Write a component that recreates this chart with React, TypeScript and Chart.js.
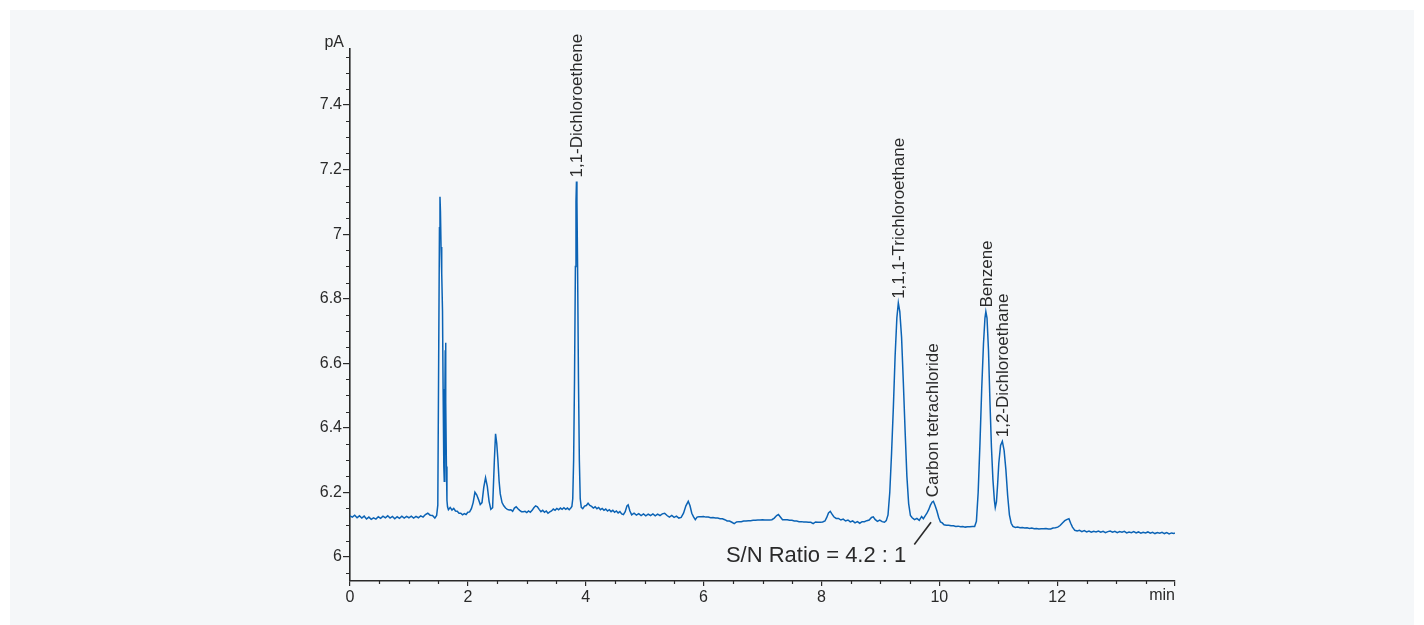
import { useEffect, useRef } from 'react';
import { Chart, registerables } from 'chart.js';

Chart.register(...registerables);

// Chromatogram trace: [retention time (min), signal (pA)]
const trace: [number, number][] = [
  [0.00, 6.127], [0.04, 6.123], [0.08, 6.129], [0.12, 6.121], [0.16, 6.127], [0.20, 6.120], [0.24, 6.126], [0.28, 6.117],
  [0.32, 6.123], [0.36, 6.116], [0.40, 6.121], [0.44, 6.117], [0.48, 6.124], [0.52, 6.119], [0.56, 6.126], [0.60, 6.121],
  [0.64, 6.127], [0.68, 6.120], [0.72, 6.125], [0.76, 6.118], [0.80, 6.124], [0.84, 6.119], [0.88, 6.126], [0.92, 6.120],
  [0.96, 6.125], [1.00, 6.121], [1.04, 6.126], [1.08, 6.120], [1.12, 6.125], [1.16, 6.121], [1.20, 6.127], [1.24, 6.123],
  [1.28, 6.131], [1.32, 6.135], [1.36, 6.129], [1.40, 6.128], [1.44, 6.120], [1.47, 6.128],
  [1.49, 6.16], [1.505, 6.62], [1.518, 7.02], [1.527, 7.116], [1.535, 7.07], [1.545, 6.96], [1.553, 6.89], [1.560, 6.878],
  [1.570, 6.76], [1.580, 6.52], [1.592, 6.28], [1.600, 6.234], [1.608, 6.45], [1.616, 6.64], [1.621, 6.663], [1.628, 6.48],
  [1.636, 6.28], [1.645, 6.175], [1.655, 6.155], [1.67, 6.146], [1.70, 6.153], [1.73, 6.145], [1.76, 6.150], [1.79, 6.142],
  [1.82, 6.141], [1.85, 6.135], [1.88, 6.135], [1.91, 6.130], [1.94, 6.134], [1.97, 6.131], [2.00, 6.138], [2.03, 6.139],
  [2.06, 6.149], [2.09, 6.168], [2.12, 6.200], [2.15, 6.192], [2.18, 6.178], [2.21, 6.162], [2.24, 6.168], [2.27, 6.215],
  [2.30, 6.245], [2.33, 6.218], [2.36, 6.172], [2.39, 6.147], [2.42, 6.152], [2.45, 6.30], [2.47, 6.381], [2.49, 6.352],
  [2.51, 6.30], [2.53, 6.235], [2.55, 6.195], [2.58, 6.168], [2.61, 6.158], [2.64, 6.151], [2.67, 6.147], [2.70, 6.145],
  [2.73, 6.146], [2.76, 6.141], [2.79, 6.151], [2.82, 6.155], [2.85, 6.149], [2.88, 6.144], [2.91, 6.140], [2.94, 6.140],
  [2.97, 6.141], [3.00, 6.137], [3.03, 6.142], [3.06, 6.138], [3.09, 6.144], [3.12, 6.152], [3.15, 6.158], [3.18, 6.155],
  [3.21, 6.147], [3.24, 6.140], [3.27, 6.144], [3.30, 6.138], [3.33, 6.142], [3.36, 6.135], [3.39, 6.139], [3.42, 6.142],
  [3.45, 6.148], [3.48, 6.144], [3.51, 6.150], [3.54, 6.146], [3.57, 6.151], [3.60, 6.147], [3.63, 6.152], [3.66, 6.147],
  [3.69, 6.151], [3.72, 6.146], [3.75, 6.152], [3.765, 6.156], [3.78, 6.18], [3.795, 6.30], [3.81, 6.55], [3.825, 6.90],
  [3.835, 7.10], [3.843, 7.163], [3.851, 7.10], [3.862, 6.90], [3.877, 6.55], [3.892, 6.30], [3.907, 6.18], [3.925, 6.153],
  [3.95, 6.149], [3.98, 6.157], [4.01, 6.159], [4.04, 6.166], [4.07, 6.159], [4.10, 6.156], [4.13, 6.151], [4.16, 6.155],
  [4.19, 6.149], [4.22, 6.153], [4.25, 6.146], [4.28, 6.150], [4.31, 6.144], [4.34, 6.148], [4.37, 6.142], [4.40, 6.146],
  [4.43, 6.140], [4.46, 6.144], [4.49, 6.138], [4.52, 6.142], [4.55, 6.136], [4.58, 6.140], [4.61, 6.133], [4.64, 6.131],
  [4.67, 6.140], [4.70, 6.158], [4.72, 6.161], [4.75, 6.142], [4.78, 6.130], [4.82, 6.135], [4.86, 6.129], [4.90, 6.134],
  [4.94, 6.128], [4.98, 6.133], [5.02, 6.127], [5.06, 6.132], [5.10, 6.128], [5.14, 6.133], [5.18, 6.127], [5.22, 6.132],
  [5.26, 6.128], [5.30, 6.133], [5.34, 6.135], [5.38, 6.128], [5.42, 6.123], [5.46, 6.128], [5.50, 6.122], [5.54, 6.126],
  [5.58, 6.120], [5.62, 6.122], [5.66, 6.135], [5.70, 6.158], [5.74, 6.172], [5.77, 6.158], [5.80, 6.135], [5.83, 6.124],
  [5.86, 6.115], [5.89, 6.123], [5.92, 6.124], [5.96, 6.124], [6.00, 6.125], [6.04, 6.123], [6.08, 6.123], [6.12, 6.121],
  [6.16, 6.122], [6.20, 6.120], [6.24, 6.120], [6.28, 6.118], [6.32, 6.118], [6.36, 6.115], [6.40, 6.111], [6.44, 6.111],
  [6.48, 6.107], [6.52, 6.103], [6.56, 6.108], [6.60, 6.109], [6.64, 6.109], [6.68, 6.111], [6.72, 6.111], [6.76, 6.112],
  [6.80, 6.112], [6.84, 6.113], [6.88, 6.113], [6.92, 6.114], [6.96, 6.114], [7.00, 6.115], [7.04, 6.114], [7.08, 6.114],
  [7.12, 6.114], [7.16, 6.115], [7.20, 6.120], [7.24, 6.128], [7.27, 6.131], [7.30, 6.124], [7.34, 6.115], [7.38, 6.115],
  [7.42, 6.115], [7.46, 6.113], [7.50, 6.113], [7.54, 6.111], [7.58, 6.111], [7.62, 6.109], [7.66, 6.109], [7.70, 6.108],
  [7.74, 6.108], [7.78, 6.107], [7.82, 6.107], [7.86, 6.103], [7.90, 6.108], [7.94, 6.107], [7.98, 6.107], [8.02, 6.108],
  [8.06, 6.111], [8.09, 6.122], [8.12, 6.136], [8.15, 6.141], [8.18, 6.132], [8.21, 6.124], [8.25, 6.119], [8.29, 6.119],
  [8.33, 6.114], [8.37, 6.117], [8.41, 6.111], [8.45, 6.114], [8.49, 6.108], [8.53, 6.111], [8.57, 6.105], [8.61, 6.109],
  [8.65, 6.104], [8.69, 6.109], [8.73, 6.109], [8.77, 6.112], [8.81, 6.114], [8.85, 6.122], [8.88, 6.124], [8.91, 6.116],
  [8.95, 6.110], [8.99, 6.114], [9.03, 6.109], [9.07, 6.107], [9.10, 6.112], [9.13, 6.130], [9.16, 6.20], [9.19, 6.32],
  [9.22, 6.46], [9.25, 6.62], [9.28, 6.74], [9.305, 6.787], [9.33, 6.76], [9.36, 6.68], [9.39, 6.54], [9.42, 6.39],
  [9.45, 6.25], [9.48, 6.165], [9.51, 6.128], [9.54, 6.121], [9.58, 6.115], [9.62, 6.119], [9.66, 6.113], [9.70, 6.125],
  [9.73, 6.118], [9.76, 6.127], [9.79, 6.135], [9.82, 6.146], [9.85, 6.160], [9.88, 6.170], [9.90, 6.172], [9.93, 6.158],
  [9.96, 6.142], [9.99, 6.122], [10.02, 6.108], [10.05, 6.105], [10.08, 6.099], [10.12, 6.098], [10.16, 6.098], [10.20, 6.096],
  [10.24, 6.096], [10.28, 6.094], [10.32, 6.095], [10.36, 6.093], [10.40, 6.094], [10.44, 6.092], [10.48, 6.093], [10.52, 6.093],
  [10.56, 6.094], [10.60, 6.094], [10.63, 6.110], [10.66, 6.20], [10.69, 6.35], [10.72, 6.52], [10.75, 6.66], [10.775, 6.74],
  [10.79, 6.760], [10.81, 6.74], [10.835, 6.64], [10.86, 6.48], [10.885, 6.34], [10.91, 6.24], [10.935, 6.175], [10.95, 6.153],
  [10.97, 6.170], [10.99, 6.225], [11.01, 6.29], [11.04, 6.345], [11.07, 6.358], [11.10, 6.33], [11.13, 6.27], [11.16, 6.19],
  [11.19, 6.130], [11.22, 6.104], [11.25, 6.094], [11.29, 6.091], [11.33, 6.092], [11.37, 6.090], [11.41, 6.091], [11.45, 6.089],
  [11.49, 6.090], [11.53, 6.088], [11.57, 6.089], [11.61, 6.087], [11.65, 6.088], [11.69, 6.086], [11.73, 6.087], [11.77, 6.087],
  [11.81, 6.088], [11.85, 6.086], [11.89, 6.086], [11.93, 6.089], [11.97, 6.090], [12.01, 6.092], [12.05, 6.097], [12.09, 6.105],
  [12.13, 6.112], [12.17, 6.116], [12.20, 6.118], [12.23, 6.104], [12.26, 6.092], [12.30, 6.082], [12.34, 6.080], [12.38, 6.082],
  [12.42, 6.078], [12.46, 6.081], [12.50, 6.077], [12.54, 6.080], [12.58, 6.076], [12.62, 6.079], [12.66, 6.077], [12.70, 6.080],
  [12.74, 6.076], [12.78, 6.079], [12.82, 6.075], [12.86, 6.078], [12.90, 6.080], [12.94, 6.076], [12.98, 6.079], [13.02, 6.075],
  [13.06, 6.078], [13.10, 6.076], [13.14, 6.079], [13.18, 6.074], [13.22, 6.077], [13.26, 6.075], [13.30, 6.078], [13.34, 6.074],
  [13.38, 6.077], [13.42, 6.073], [13.46, 6.076], [13.50, 6.074], [13.54, 6.077], [13.58, 6.073], [13.62, 6.076], [13.66, 6.072],
  [13.70, 6.075], [13.74, 6.073], [13.78, 6.076], [13.82, 6.072], [13.86, 6.075], [13.90, 6.071], [13.94, 6.074], [13.98, 6.072],
  [14.00, 6.074],
];

const xTickValues = [0, 2, 4, 6, 8, 10, 12, 14];
const yTickValues = [6, 6.2, 6.4, 6.6, 6.8, 7, 7.2, 7.4];
const xMinorStep = 0.5;
const yMinorStep = 0.05;
const xRange = [0, 14];
const yRange = [5.925, 7.575];
const xUnit = 'min';
const yUnit = 'pA';

const peakNames = ['1,1-Dichloroethene', '1,1,1-Trichloroethane', 'Carbon tetrachloride', 'Benzene', '1,2-Dichloroethane'];
const peakTimes = [3.843, 9.305, 9.89, 10.79, 11.076];
const peakApex = [7.163, 6.787, 6.172, 6.760, 6.358];

const snText = 'S/N Ratio = 4.2 : 1';
const snLineFrom = [9.576, 6.038];
const snLineTo = [9.86, 6.107];
const snTextAnchor = [9.44, 5.983];

const FONT = '"Liberation Sans", Arial, Helvetica, sans-serif';
const INK = '#2a2a2a';
const LINE_BLUE = '#0b63b5';

const overlayPlugin = {
  id: 'overlay',
  afterDraw(chart: any) {
    const ctx = chart.ctx as CanvasRenderingContext2D;
    const xs = chart.scales.x;
    const ys = chart.scales.y;
    ctx.save();
    ctx.strokeStyle = INK;
    ctx.lineWidth = 1.2;
    ctx.beginPath();
    // minor ticks on y
    const yStart = Math.ceil(yRange[0] / yMinorStep);
    const yEnd = Math.floor(yRange[1] / yMinorStep);
    for (let k = yStart; k <= yEnd; k++) {
      if (k % 4 === 0) continue;
      const py = Math.round(ys.getPixelForValue(k * yMinorStep)) + 0.5;
      ctx.moveTo(xs.left - 4, py);
      ctx.lineTo(xs.left, py);
    }
    // minor ticks on x
    const xStart = Math.ceil(xRange[0] / xMinorStep);
    const xEnd = Math.floor(xRange[1] / xMinorStep);
    for (let k = xStart; k <= xEnd; k++) {
      if (k % 4 === 0) continue;
      const px = Math.round(xs.getPixelForValue(k * xMinorStep)) + 0.5;
      ctx.moveTo(px, ys.bottom);
      ctx.lineTo(px, ys.bottom + 3);
    }
    ctx.stroke();

    // unit labels
    ctx.fillStyle = INK;
    ctx.font = `16px ${FONT}`;
    ctx.textAlign = 'right';
    ctx.textBaseline = 'alphabetic';
    ctx.fillText(yUnit, xs.left - 6, ys.top - 2);
    ctx.textBaseline = 'top';
    ctx.fillText(xUnit, xs.right, ys.bottom + 7);

    // peak labels
    ctx.font = `17px ${FONT}`;
    for (let i = 0; i < peakNames.length; i++) {
      const px = xs.getPixelForValue(peakTimes[i]) + 1;
      const py = ys.getPixelForValue(peakApex[i]) - 4;
      ctx.save();
      ctx.translate(px, py);
      ctx.rotate(-Math.PI / 2);
      ctx.textAlign = 'left';
      ctx.textBaseline = 'middle';
      ctx.fillText(peakNames[i], 0, 0);
      ctx.restore();
    }

    // S/N annotation
    ctx.beginPath();
    ctx.lineWidth = 1.6;
    ctx.moveTo(xs.getPixelForValue(snLineFrom[0]), ys.getPixelForValue(snLineFrom[1]));
    ctx.lineTo(xs.getPixelForValue(snLineTo[0]), ys.getPixelForValue(snLineTo[1]));
    ctx.stroke();
    ctx.font = `22px ${FONT}`;
    ctx.textAlign = 'right';
    ctx.textBaseline = 'alphabetic';
    ctx.fillText(snText, xs.getPixelForValue(snTextAnchor[0]), ys.getPixelForValue(snTextAnchor[1]));
    ctx.restore();
  },
};

export default function App() {
  const canvasRef = useRef<HTMLCanvasElement | null>(null);

  useEffect(() => {
    if (!canvasRef.current) return;
    Chart.defaults.font.family = FONT;
    const chart = new Chart(canvasRef.current, {
      type: 'line',
      data: {
        datasets: [
          {
            data: trace.map(([t, v]) => ({ x: t, y: v })),
            borderColor: LINE_BLUE,
            borderWidth: 1.5,
            pointRadius: 0,
            tension: 0,
            fill: false,
          },
        ],
      },
      options: {
        animation: false,
        responsive: false,
        maintainAspectRatio: false,
        layout: { padding: { left: 0, right: 239, top: 38.6, bottom: 0 } },
        plugins: { legend: { display: false }, tooltip: { enabled: false } },
        scales: {
          x: {
            type: 'linear',
            min: xRange[0],
            max: xRange[1],
            afterBuildTicks: (scale: any) => {
              scale.ticks = xTickValues.map((v) => ({ value: v }));
            },
            afterFit: (scale: any) => {
              scale.height = 44;
            },
            ticks: {
              color: INK,
              font: { size: 16 },
              padding: 2,
              maxRotation: 0,
              autoSkip: false,
              callback: (v: any) => (Number(v) === xRange[1] ? '' : String(v)),
            },
            grid: { display: true, drawOnChartArea: false, drawTicks: true, tickLength: 5, color: INK, lineWidth: 1.2 },
            border: { display: true, color: INK, width: 1.6 },
          },
          y: {
            type: 'linear',
            min: yRange[0],
            max: yRange[1],
            afterBuildTicks: (scale: any) => {
              scale.ticks = yTickValues.map((v) => ({ value: v }));
            },
            afterFit: (scale: any) => {
              scale.width = 340;
            },
            ticks: {
              color: INK,
              font: { size: 16 },
              padding: 1,
              autoSkip: false,
              callback: (v: any) => String(Math.round(Number(v) * 100) / 100),
            },
            grid: { display: true, drawOnChartArea: false, drawTicks: true, tickLength: 7, color: INK, lineWidth: 1.2 },
            border: { display: true, color: INK, width: 1.6 },
          },
        },
      },
      plugins: [overlayPlugin],
    });
    return () => chart.destroy();
  }, []);

  return (
    <div style={{ position: 'fixed', left: 0, top: 0, width: 1424, height: 625, background: '#ffffff' }}>
      <div style={{ position: 'absolute', left: 10, top: 10, width: 1404, height: 615, background: '#f5f7f9' }}>
        <canvas ref={canvasRef} width={1404} height={615} style={{ width: 1404, height: 615, display: 'block' }} />
      </div>
    </div>
  );
}
